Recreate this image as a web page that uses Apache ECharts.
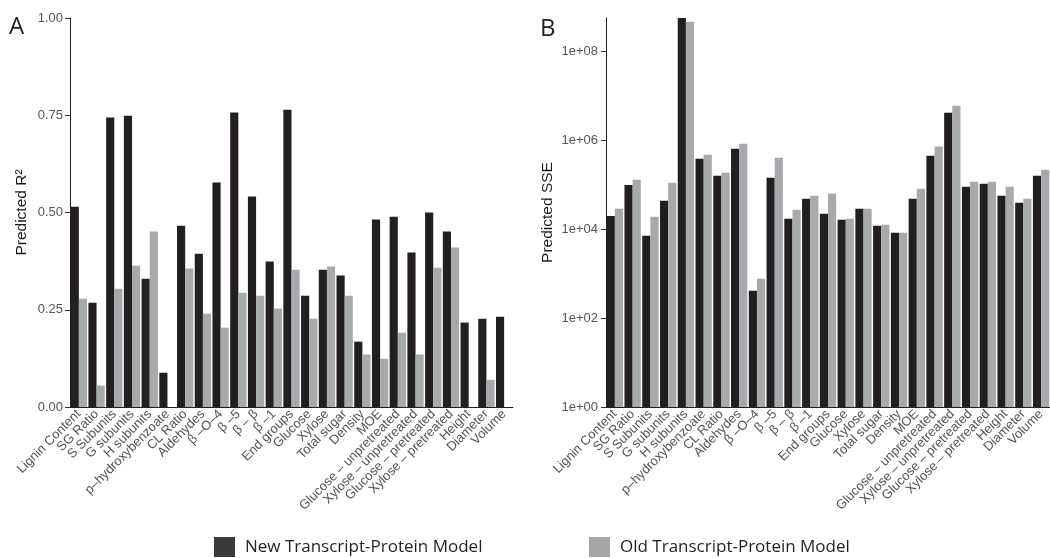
<!DOCTYPE html>
<html>
<head>
<meta charset="utf-8">
<script src="https://cdn.jsdelivr.net/npm/echarts@6/dist/echarts.min.js"></script>
<style>
html,body{margin:0;padding:0;background:#fff;}
#chart{width:1050px;height:558px;}
</style>
</head>
<body>
<div id="chart"></div>
<script>
const categories = ['Lignin Content','SG Ratio','S Subunits','G subunits','H subunits','p–hydroxybenzoate','CL Ratio','Aldehydes','β –O–4','β –5','β – β','β –1','End groups','Glucose','Xylose','Total sugar','Density','MOE','Glucose – unpretreated','Xylose – unpretreated','Glucose – pretreated','Xylose – pretreated','Height','Diameter','Volume'];
const newR2 = [0.515,0.268,0.744,0.749,0.330,0.088,0.466,0.394,0.577,0.757,0.541,0.374,0.764,0.286,0.353,0.338,0.168,0.482,0.489,0.397,0.500,0.451,0.217,0.227,0.232];
const oldR2 = [0.278,0.055,0.304,0.363,0.451,null,0.356,0.240,0.204,0.294,0.286,0.253,0.353,0.227,0.361,0.286,0.135,0.124,0.191,0.135,0.358,0.410,null,0.070,null];
const newSSE = [2.0e4,1.0e5,7.2e3,4.4e4,5.75e8,3.9e5,1.61e5,6.5e5,416,1.46e5,1.74e4,4.9e4,2.25e4,1.65e4,2.92e4,1.21e4,8.4e3,4.9e4,4.55e5,4.24e6,9.1e4,1.07e5,5.7e4,4.0e4,1.61e5];
const oldSSE = [2.9e4,1.31e5,1.93e4,1.12e5,4.73e8,4.8e5,1.89e5,8.5e5,775,4.1e5,2.77e4,5.7e4,6.4e4,1.74e4,2.92e4,1.27e4,8.4e3,8.2e4,7.3e5,6.1e6,1.18e5,1.18e5,9.1e4,4.9e4,2.2e5];
const r2Ticks = [0,0.25,0.5,0.75,1];
const sseTickExponents = [0,2,4,6,8];

const NEW = 'New Transcript-Protein Model';
const OLD = 'Old Transcript-Protein Model';
const C_NEW = '#231f20';
const C_OLD = '#a7a9ac';
const TICK_FONT = '"Liberation Sans", Arial, sans-serif';
const log10 = v => v == null ? null : Math.log10(v);
const sseMax = Math.log10(Math.max(...newSSE, ...oldSSE));

const chart = echarts.init(document.getElementById('chart'), null, {renderer:'canvas'});

function xAxis(gridIndex){
  return {
    type:'category', gridIndex, data:categories,
    axisLine:{lineStyle:{color:C_NEW,width:1}},
    axisTick:{alignWithLabel:true,length:4,lineStyle:{color:'#333'}},
    axisLabel:{interval:0,rotate:45,margin:5,fontSize:13,color:'#555',fontFamily:TICK_FONT},
    splitLine:{show:false}
  };
}

const option = {
  animation:false,
  graphic:[
    {type:'text',left:9,top:15,style:{text:'A',font:'24px "Open Sans"',fill:C_NEW}},
    {type:'text',left:540,top:17,style:{text:'B',font:'24px "Open Sans"',fill:C_NEW}}
  ],
  legend:[
    {left:214,top:537,padding:0,icon:'rect',itemWidth:21,itemHeight:20,itemGap:0,
     textStyle:{fontFamily:'Open Sans',fontSize:17,color:C_NEW,padding:[0,0,0,5]},
     data:[{name:NEW,itemStyle:{color:'#3a3a3a'}}],selectedMode:false},
    {left:589,top:537,padding:0,icon:'rect',itemWidth:21,itemHeight:20,itemGap:0,
     textStyle:{fontFamily:'Open Sans',fontSize:17,color:C_NEW,padding:[0,0,0,5]},
     data:[{name:OLD,itemStyle:{color:'#a6a6a6'}}],selectedMode:false}
  ],
  grid:[
    {left:70,top:18,width:443,height:389},
    {left:606,top:18,width:444,height:389}
  ],
  xAxis:[xAxis(0),xAxis(1)],
  yAxis:[
    {type:'value',gridIndex:0,min:0,max:1,interval:0.25,
     name:'Predicted R²',nameLocation:'middle',nameGap:40,nameRotate:90,
     nameTextStyle:{fontFamily:TICK_FONT,fontSize:15.5,color:'#1a1a1a'},
     axisLine:{show:true,lineStyle:{color:C_NEW,width:1}},
     axisTick:{show:true,length:5,lineStyle:{color:'#333'}},
     axisLabel:{margin:7,fontSize:13,color:'#555',fontFamily:TICK_FONT,formatter:v=>v.toFixed(2)},
     splitLine:{show:false}},
    {type:'value',gridIndex:1,min:0,max:sseMax,
     name:'Predicted SSE',nameLocation:'middle',nameGap:50,nameRotate:90,
     nameTextStyle:{fontFamily:TICK_FONT,fontSize:15.5,color:'#1a1a1a'},
     axisLine:{show:true,lineStyle:{color:C_NEW,width:1}},
     axisTick:{show:true,length:5,lineStyle:{color:'#333'},customValues:sseTickExponents},
     axisLabel:{margin:8,fontSize:13,color:'#555',fontFamily:TICK_FONT,customValues:sseTickExponents,
       formatter:v=>'1e+'+String(Math.round(v)).padStart(2,'0')},
     splitLine:{show:false}}
  ],
  series:[
    {name:NEW,type:'bar',xAxisIndex:0,yAxisIndex:0,data:newR2,itemStyle:{color:C_NEW},barGap:'0%',barCategoryGap:'8%'},
    {name:OLD,type:'bar',xAxisIndex:0,yAxisIndex:0,data:oldR2,itemStyle:{color:C_OLD},barGap:'0%',barCategoryGap:'8%'},
    {name:NEW,type:'bar',xAxisIndex:1,yAxisIndex:1,data:newSSE.map(log10),itemStyle:{color:C_NEW},barGap:'0%',barCategoryGap:'8%'},
    {name:OLD,type:'bar',xAxisIndex:1,yAxisIndex:1,data:oldSSE.map(log10),itemStyle:{color:C_OLD},barGap:'0%',barCategoryGap:'8%'}
  ]
};
chart.setOption(option);
</script>
</body>
</html>
